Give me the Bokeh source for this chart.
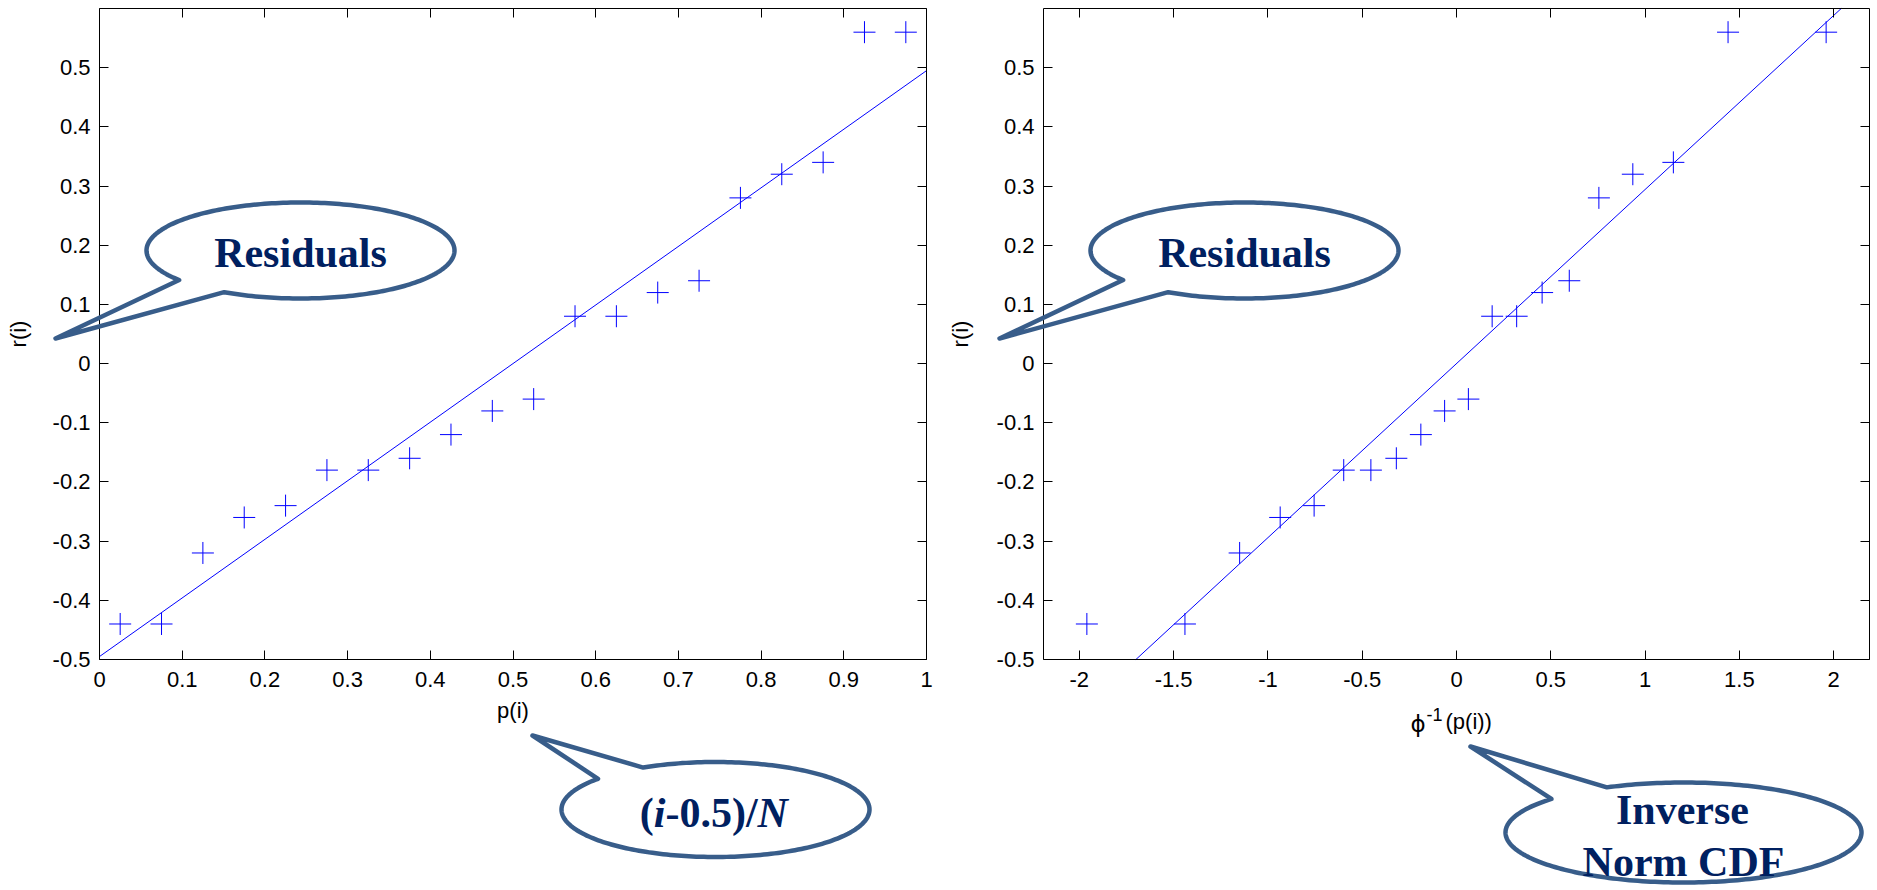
import numpy as np
from bokeh.plotting import figure
from bokeh.models import (Range1d, FixedTicker, LinearAxis, CustomJSTickFormatter,
                          PolyAnnotation, Label)
from bokeh.embed import file_html
from bokeh.resources import INLINE

# ---------------- data ----------------
p_i = [0.025, 0.075, 0.125, 0.175, 0.225, 0.275, 0.325, 0.375, 0.425, 0.475,
       0.525, 0.575, 0.625, 0.675, 0.725, 0.775, 0.825, 0.875, 0.925, 0.975]
z_i = [-1.960, -1.440, -1.150, -0.935, -0.755, -0.598, -0.454, -0.319, -0.189, -0.063,
       0.063, 0.189, 0.319, 0.454, 0.598, 0.755, 0.935, 1.150, 1.440, 1.960]
r_i = [-0.44, -0.44, -0.32, -0.26, -0.24, -0.18, -0.18, -0.16, -0.12, -0.08,
       -0.06, 0.08, 0.08, 0.12, 0.14, 0.28, 0.32, 0.34, 0.56, 0.56]

fit_left_x = [0.0, 1.0]
fit_left_y = [-0.495, 0.495]
fit_right_x = [-1.70, 2.04]
fit_right_y = [-0.50, 0.60]

left_xticks = [0, 0.1, 0.2, 0.3, 0.4, 0.5, 0.6, 0.7, 0.8, 0.9, 1]
right_xticks = [-2, -1.5, -1, -0.5, 0, 0.5, 1, 1.5, 2]
yticks = [-0.5, -0.4, -0.3, -0.2, -0.1, 0, 0.1, 0.2, 0.3, 0.4, 0.5]

LEFT_XR = (0.0, 1.0)
RIGHT_XR = (-2.19, 2.19)
YR = (-0.5, 0.6)

# ---------------- layout (pixels) ----------------
W, H = 1877, 890
LBOX = (99, 926)      # left plot box, x pixels
RBOX = (1043, 1869)   # right plot box, x pixels
YBOX = (8, 659)       # box top / bottom, y pixels from top

FONT = "Liberation Sans"
SERIF = "Liberation Serif"
BUBBLE_LINE = "#385D8A"
BUBBLE_TEXT = "#002060"


def ext_range(lo, hi, p_lo, p_hi, total):
    k = (hi - lo) / (p_hi - p_lo)
    return Range1d(lo - p_lo * k, hi + (total - p_hi) * k)


p = figure(width=W, height=H, x_range=Range1d(0, W), y_range=Range1d(H, 0),
           x_axis_location=None, y_axis_location=None, min_border=0,
           output_backend="svg", toolbar_location=None)
p.outline_line_color = None
p.background_fill_color = "white"
p.border_fill_color = "white"
p.grid.visible = False
p.extra_x_ranges = {"L": ext_range(LEFT_XR[0], LEFT_XR[1], LBOX[0], LBOX[1], W),
                    "R": ext_range(RIGHT_XR[0], RIGHT_XR[1], RBOX[0], RBOX[1], W)}
p.extra_y_ranges = {"Y": ext_range(YR[0], YR[1], H - YBOX[1], H - YBOX[0], H)}

fmt = CustomJSTickFormatter(code="return String(Math.round(tick*100)/100)")
blank = CustomJSTickFormatter(code="return ''")


def style_axis(ax, labels=True):
    ax.major_tick_in = 9
    ax.major_tick_out = 0
    ax.minor_tick_line_color = None
    ax.axis_line_color = "black"
    ax.axis_line_width = 1
    ax.major_tick_line_color = "black"
    ax.major_label_text_font = FONT
    ax.major_label_text_font_size = "22px" if labels else "0px"
    ax.major_label_text_color = "black"
    ax.axis_label_text_font = FONT
    ax.axis_label_text_font_size = "22px"
    ax.axis_label_text_font_style = "normal"
    ax.axis_label_text_color = "black"


def add_axes(xr_name, xr, xticks, xlabel, ylab_standoff):
    common = dict(x_range_name=xr_name, y_range_name="Y")
    bottom = LinearAxis(fixed_location=YR[0], bounds=xr, ticker=FixedTicker(ticks=xticks),
                        formatter=fmt, **common)
    style_axis(bottom)
    bottom.major_label_standoff = 12
    if xlabel:
        bottom.axis_label = xlabel
        bottom.axis_label_standoff = 8
    p.add_layout(bottom, "below")

    left = LinearAxis(fixed_location=xr[0], bounds=YR, ticker=FixedTicker(ticks=yticks),
                      formatter=fmt, axis_label="r(i)", **common)
    style_axis(left)
    left.major_label_standoff = 9
    left.axis_label_standoff = ylab_standoff
    p.add_layout(left, "left")

    top = LinearAxis(fixed_location=YR[1], bounds=xr, ticker=FixedTicker(ticks=xticks),
                     formatter=blank, **common)
    style_axis(top, labels=False)
    top.major_label_standoff = 0
    p.add_layout(top, "above")

    right = LinearAxis(fixed_location=xr[1], bounds=YR, ticker=FixedTicker(ticks=yticks),
                       formatter=blank, **common)
    style_axis(right, labels=False)
    right.major_label_standoff = 0
    p.add_layout(right, "right")


# ---------------- left plot ----------------
add_axes("L", LEFT_XR, left_xticks, "p(i)", 19)
p.line(fit_left_x, fit_left_y, x_range_name="L", y_range_name="Y",
       line_color="blue", line_width=1)
p.scatter(p_i, r_i, x_range_name="L", y_range_name="Y", marker="cross", size=22,
          line_color="blue", line_width=1)

# ---------------- right plot ----------------
add_axes("R", RIGHT_XR, right_xticks, None, 21)
p.line(fit_right_x, fit_right_y, x_range_name="R", y_range_name="Y",
       line_color="blue", line_width=1)
p.scatter(z_i, r_i, x_range_name="R", y_range_name="Y", marker="cross", size=22,
          line_color="blue", line_width=1)


def plain(x, ymid, s, size=22, align="left", font=FONT):
    p.add_layout(Label(x=x, y=ymid, text=s, text_font=font, text_font_size=f"{size}px",
                       text_color="black", text_align=align, text_baseline="middle"))


# x label of the right plot: phi^-1(p(i))   (y = vertical middle of the line box)
plain(1410, 723, "\u03d5", size=23, font="DejaVu Sans")
plain(1426, 714, "-1", size=18)
plain(1445, 721, "(p(i))")


# ---------------- callouts (pixel coordinates) ----------------
def bubble(cx, cy, a, b, t0, t1, tip):
    t = np.radians(np.linspace(t0, t1, 240))
    xs = list(cx + a * np.cos(t)) + [tip[0]]
    ys = list(cy + b * np.sin(t)) + [tip[1]]
    p.add_layout(PolyAnnotation(xs=xs, ys=ys, fill_color=None, fill_alpha=0,
                                line_color=BUBBLE_LINE, line_alpha=1.0, line_width=4.5,
                                line_join="round"))


def btext(x, ymid, s, align="center", style="bold"):
    p.add_layout(Label(x=x, y=ymid, text=s, text_font=SERIF, text_font_size="42px",
                       text_font_style=style, text_color=BUBBLE_TEXT,
                       text_align=align, text_baseline="middle"))


off = RBOX[0] - LBOX[0]
for dx in (0, off):
    bubble(300 + dx, 250, 154, 48, 142, 479.7, (55 + dx, 338))
    btext(300 + dx, 252, "Residuals")

bubble(715, 809, 154, 47.5, -118, 220.3, (532, 735))
fs = 42.0
x0 = 639.3
parts = [("(", "bold", 0.333), ("i", "bold italic", 0.278),
         ("-0.5)/", "bold", 2.194), ("N", "bold italic", 0.722)]
for s, st, w in parts:
    btext(x0, 812, s, align="left", style=st)
    x0 += w * fs

bubble(1683, 832, 178, 50, -115.5, 222.1, (1470, 746))
btext(1682, 809, "Inverse")
btext(1683, 861, "Norm CDF")

open("out.html", "w").write(file_html(p, INLINE))
